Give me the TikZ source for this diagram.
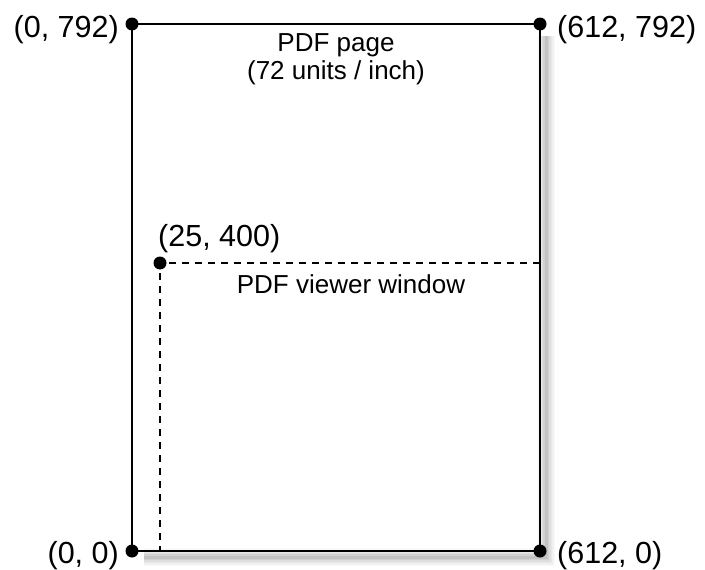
\documentclass[tikz,border=0pt]{standalone}
\usepackage{fontspec}
\setmainfont{Liberation Sans}
\begin{document}
\begin{tikzpicture}[x=1pt,y=-1pt,
  dot/.style={circle,fill=black,inner sep=0pt,minimum size=13pt},
  coordlabel/.style={font=\fontsize{30.5}{36}\selectfont,inner sep=0pt},
  caption/.style={font=\fontsize{26}{28}\selectfont,inner sep=0pt,align=center},
  frame/.style={line width=2.7pt},
  viewer/.style={line width=2pt,dash pattern=on 7pt off 6pt},
  shade/.style={draw=black,line cap=butt,line join=miter}]
\useasboundingbox (0,0) rectangle (705,570);

% corners of the page and origin of the viewer window
\coordinate (tl) at (132,24);
\coordinate (tr) at (540,24);
\coordinate (bl) at (132,551);
\coordinate (br) at (540,551);
\coordinate (vw) at (160,263);
\coordinate (vr) at (540,263);
\coordinate (vb) at (160,551);

% soft drop shadow along the right and bottom edges
\foreach \w/\o in {18/0.025,15/0.03,12/0.035,9/0.045,6/0.055,3/0.07}
  \draw[shade,line width=\w pt,opacity=\o]
    ([shift={(6,12)}]tr) -- ([shift={(6,6)}]br) -- ([shift={(12,6)}]bl);

% viewer window outline
\draw[viewer] (vr) -- (vw) -- (vb);

% page outline
\draw[frame] (tl) rectangle (br);

% corner markers
\node[dot] (ptl) at (tl) {};
\node[dot] (ptr) at (tr) {};
\node[dot] (pbl) at (bl) {};
\node[dot] (pbr) at (br) {};
\node[dot] (pvw) at (vw) {};

% coordinate labels
\node[coordlabel,anchor=east] (ltl) at ([shift={(-13,6)}]tl) {(0, 792)};
\node[coordlabel,anchor=west] (ltr) at ([shift={(17,6)}]tr) {(612, 792)};
\node[coordlabel,anchor=east] (lbl) at ([shift={(-13,4.5)}]bl) {(0, 0)};
\node[coordlabel,anchor=west] (lbr) at ([shift={(17,4.5)}]br) {(612, 0)};
\node[coordlabel,anchor=west] (lvw) at ([shift={(-2,-24)}]vw) {(25, 400)};

% captions
\node[caption,anchor=base] (page) at (336,79) {PDF page\\(72 units / inch)};
\node[caption,anchor=base] (win) at (351,293) {PDF viewer window};
\end{tikzpicture}
\end{document}
